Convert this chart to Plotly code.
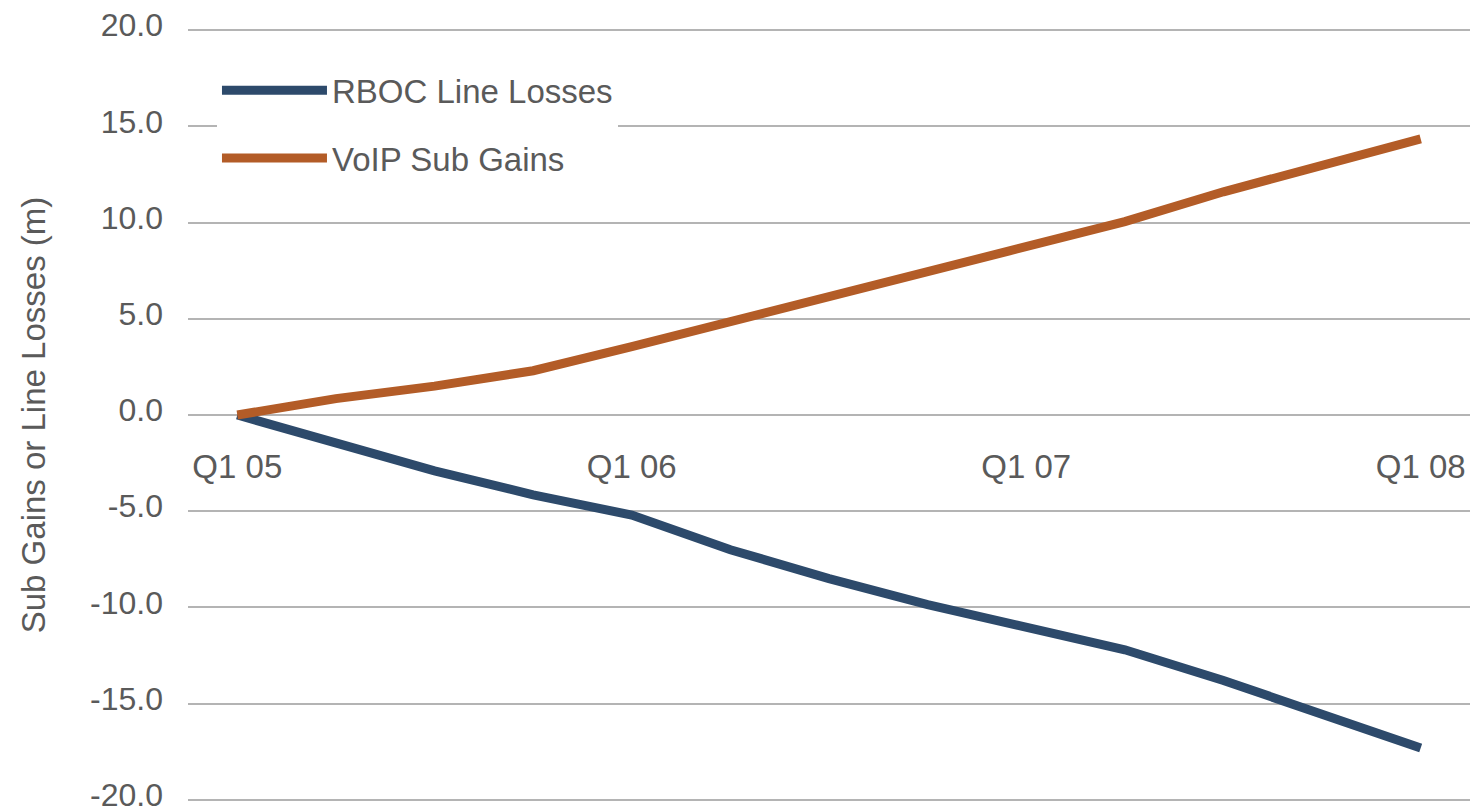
import plotly.graph_objects as go

# Quarterly periods, Q1 2005 through Q1 2008
quarters = ["Q1 05", "Q2 05", "Q3 05", "Q4 05",
            "Q1 06", "Q2 06", "Q3 06", "Q4 06",
            "Q1 07", "Q2 07", "Q3 07", "Q4 07",
            "Q1 08"]

# Cumulative change, millions
rboc_line_losses = [0.0, -1.5, -2.9, -4.15, -5.2, -7.0, -8.5, -9.85,
                    -11.0, -12.2, -13.8, -15.5, -17.3]
voip_sub_gains = [0.0, 0.85, 1.5, 2.3, 3.55, 4.85, 6.15, 7.45,
                  8.7, 10.05, 11.6, 13.0, 14.35]

tick_quarters = ["Q1 05", "Q1 06", "Q1 07", "Q1 08"]
y_ticks = [-20, -15, -10, -5, 0, 5, 10, 15, 20]
y_tick_text = [f"{v:.1f}" for v in y_ticks]  # plain hyphen for negatives

FONT = "Liberation Sans, Arial, Helvetica, sans-serif"
TEXT = "#5a5a5a"
GRID = "#b4b4b4"

fig = go.Figure()
fig.add_trace(go.Scatter(
    x=quarters, y=rboc_line_losses, name="RBOC Line Losses",
    mode="lines", line=dict(color="#2d4a6b", width=9),
    legendgroup="rboc",
))
fig.add_trace(go.Scatter(
    x=quarters, y=voip_sub_gains, name="VoIP Sub Gains",
    mode="lines", line=dict(color="#b35c27", width=9),
    legendgroup="voip",
))

fig.update_layout(
    width=1478, height=812,
    margin=dict(l=188, r=8, t=29, b=11, autoexpand=False),
    paper_bgcolor="white", plot_bgcolor="white",
    font=dict(family=FONT, color=TEXT, size=32),
    showlegend=True,
    legend=dict(
        x=0.0226, y=0.957, xanchor="left", yanchor="top",
        bgcolor="white", borderwidth=0,
        font=dict(family=FONT, size=33, color=TEXT),
        itemwidth=105, tracegroupgap=22,
    ),
    xaxis=dict(
        type="category", range=[-0.5, 12.5],
        anchor="free", position=0.5, automargin=False,
        showgrid=False, showline=False, zeroline=False,
        ticks="", tickvals=tick_quarters, ticktext=tick_quarters,
        ticklabelstandoff=29,
        tickfont=dict(family=FONT, size=33, color=TEXT),
    ),
    yaxis=dict(
        range=[-20.06, 20.06], tickvals=y_ticks, ticktext=y_tick_text,
        automargin=False,
        showgrid=True, gridcolor=GRID, gridwidth=1.5,
        zeroline=False, showline=False, ticks="",
        ticklabelstandoff=24, ticklabelshift=-5, ticklabeloverflow="allow",
        tickfont=dict(family=FONT, size=32, color=TEXT),
        title=dict(text="Sub Gains or Line Losses (m)", standoff=34,
                   font=dict(family=FONT, size=33, color=TEXT)),
    ),
)

fig.write_html("out.html")
